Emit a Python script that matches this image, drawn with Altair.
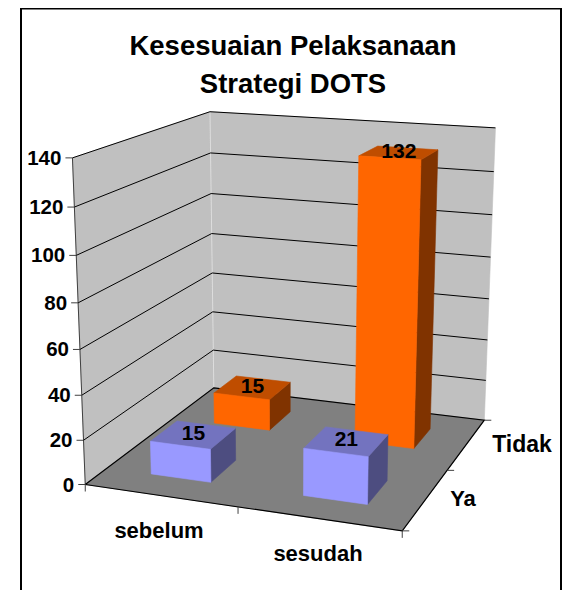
import altair as alt
import numpy as np

# ---- chart values ----
title_lines = ["Kesesuaian Pelaksanaan", "Strategi DOTS"]
periods = ["sebelum", "sesudah"]
answers = ["Ya", "Tidak"]
ya_values = [15, 21]
tidak_values = [15, 132]
axis_ticks = [0, 20, 40, 60, 80, 100, 120, 140]

# ---- colours ----
WALL, FLOOR = "#C0C0C0", "#808080"
BLUE = ("#9999FF", "#7373BF", "#4D4D80")
ORANGE = ("#FF6600", "#BF4D00", "#803300")
ZMAX = 140.0
OFF = 8  # page margin
W, H = 554, 582

# ---- camera: fitted from the box corners ----
calib = [
    (0, 0, 0, 85, 485), (0, 0, 140, 73, 158),
    (0, 1, 0, 214.5, 388), (0, 1, 140, 209, 112),
    (1, 1, 0, 484, 420), (1, 1, 140, 496, 128),
    (1, 0, 0, 402, 531),
    (0, 0, 70, 79, 325.5), (0, 1, 70, 212, 253),
]
A, b = [], []
for gx, gd, gz, px, py in calib:
    X = [gx, gd, gz / ZMAX, 1]
    A.append(X + [0, 0, 0, 0] + [-px * v for v in X[:3]]); b.append(px)
    A.append([0, 0, 0, 0] + X + [-py * v for v in X[:3]]); b.append(py)
sol = np.linalg.lstsq(np.array(A, float), np.array(b, float), rcond=None)[0]
P = np.append(sol, 1.0).reshape(3, 4)


def proj(gx, gd, z):
    h = P @ np.array([gx, gd, z / ZMAX, 1.0])
    return [float(h[0] / h[2]) - OFF, float(h[1] / h[2]) - OFF]


def poly(points, fill):
    ring = list(points) + [points[0]]
    return {"type": "Feature", "properties": {"fill": fill},
            "geometry": {"type": "Polygon", "coordinates": [ring]}}


def line(points):
    return {"type": "Feature", "properties": {},
            "geometry": {"type": "LineString", "coordinates": points}}


FONT = "Liberation Sans"


def shapes(features):
    return (alt.Chart(alt.Data(values=features))
            .mark_geoshape(strokeWidth=0.6)
            .encode(fill=alt.Fill("properties.fill:N", scale=None),
                    stroke=alt.Stroke("properties.fill:N", scale=None)))


def lines(features, color="#000000", width=1.0, opacity=1.0):
    return (alt.Chart(alt.Data(values=features))
            .mark_geoshape(filled=False, stroke=color, strokeWidth=width,
                           strokeOpacity=opacity))


def labels(rows, align="center"):
    return (alt.Chart(alt.Data(values=rows))
            .mark_text(font=FONT, fontWeight="bold", align=align,
                       baseline="middle", color="#000000")
            .encode(longitude="lon:Q", latitude="lat:Q", text="t:N",
                    size=alt.Size("s:Q", scale=None)))


# walls
walls = [
    poly([proj(0, 0, 0), proj(0, 1, 0), proj(0, 1, ZMAX), proj(0, 0, ZMAX)], WALL),
    poly([proj(0, 1, 0), proj(1, 1, 0), proj(1, 1, ZMAX), proj(0, 1, ZMAX)], WALL),
]
corner = [line([proj(0, 1, 0), proj(0, 1, ZMAX)])]
grid = [line([proj(0, 0, z), proj(0, 1, z), proj(1, 1, z)]) for z in axis_ticks[1:]]
left_edge = [line([proj(0, 0, 0), proj(0, 0, ZMAX)])]

# tick marks: one per value on the wall, one per category on the floor edges
tick_feats = []
for z in axis_ticks:
    x0, y0 = proj(0, 0, z)
    tick_feats.append(line([[x0 - 7, y0], [x0, y0]]))
for gx in (0, 0.5, 1):
    x0, y0 = proj(gx, 0, 0)
    tick_feats.append(line([[x0, y0], [x0, y0 + 7]]))
for gd in (0, 0.5, 1):
    x0, y0 = proj(1, gd, 0)
    tick_feats.append(line([[x0, y0], [x0 + 7, y0]]))

floor = [poly([proj(0, 0, 0), proj(1, 0, 0), proj(1, 1, 0), proj(0, 1, 0)], FLOOR)]
floor_edges = [line([proj(0, 0, 0), proj(1, 0, 0), proj(1, 1, 0), proj(0, 1, 0), proj(0, 0, 0)])]

# bars: 150 % gap in both directions
bars = []
value_labels = []
series = [(1, tidak_values, ORANGE), (0, ya_values, BLUE)]
for di, values, (front, top, side) in series:
    d0, d1 = (di + 0.3) / 2, (di + 0.7) / 2
    for pi, v in enumerate(values):
        x0, x1 = (pi + 0.3) / 2, (pi + 0.7) / 2
        bars.append(poly([proj(x1, d0, 0), proj(x1, d1, 0), proj(x1, d1, v), proj(x1, d0, v)], side))
        bars.append(poly([proj(x0, d0, v), proj(x1, d0, v), proj(x1, d1, v), proj(x0, d1, v)], top))
        bars.append(poly([proj(x0, d0, 0), proj(x1, d0, 0), proj(x1, d0, v), proj(x0, d0, v)], front))
        cx, cy = proj((x0 + x1) / 2, (d0 + d1) / 2, v)
        value_labels.append({"lon": cx, "lat": cy - 1, "t": str(v), "s": 21})

# frame (left, top, right sides; the right side sits at the edge of the drawing area)
fx0, fy0, fx1 = 21 - OFF, 8 - OFF + 0.5, W - 1
frame = [line([[fx0, H], [fx0, fy0], [fx1, fy0], [fx1, H]])]
# invisible box the size of the drawing, so the projection stays at 1:1
canvas = [line([[0, 0], [W, 0], [W, H], [0, H], [0, 0]])]

tick_rows = []
for z in axis_ticks:
    x0, y0 = proj(0, 0, z)
    tick_rows.append({"lon": x0 - 11, "lat": y0 + 1, "t": str(z), "s": 20.5})

title_rows = [
    {"lon": 293 - OFF, "lat": 46.5 - OFF, "t": title_lines[0], "s": 27.5},
    {"lon": 293 - OFF, "lat": 84.5 - OFF, "t": title_lines[1], "s": 27.5},
]
cat_rows = [
    {"lon": 159 - OFF, "lat": 530.5 - OFF, "t": periods[0], "s": 22},
    {"lon": 318 - OFF, "lat": 553.5 - OFF, "t": periods[1], "s": 22},
    {"lon": 463 - OFF, "lat": 498.5 - OFF, "t": answers[0], "s": 22},
    {"lon": 522 - OFF, "lat": 444.5 - OFF, "t": answers[1], "s": 23},
]

chart = (
    alt.layer(
        lines(canvas, "#FFFFFF", 1, 0),
        shapes(walls),
        lines(corner, "#DDDDDD", 1),
        lines(left_edge, "#404040", 1),
        lines(grid, "#000000", 1),
        shapes(floor),
        lines(floor_edges, "#000000", 1.2),
        lines(tick_feats, "#404040", 1),
        shapes(bars),
        lines(frame, "#000000", 2),
        labels(title_rows),
        labels(cat_rows),
        labels(tick_rows, "right"),
        labels(value_labels),
    )
    .project(type="identity")
    .properties(width=W, height=H, padding=0,
                autosize=alt.AutoSizeParams(type="none"))
    .configure_view(stroke=None)
)

chart.save("out.html", embed_options={"renderer": "svg", "actions": False})
